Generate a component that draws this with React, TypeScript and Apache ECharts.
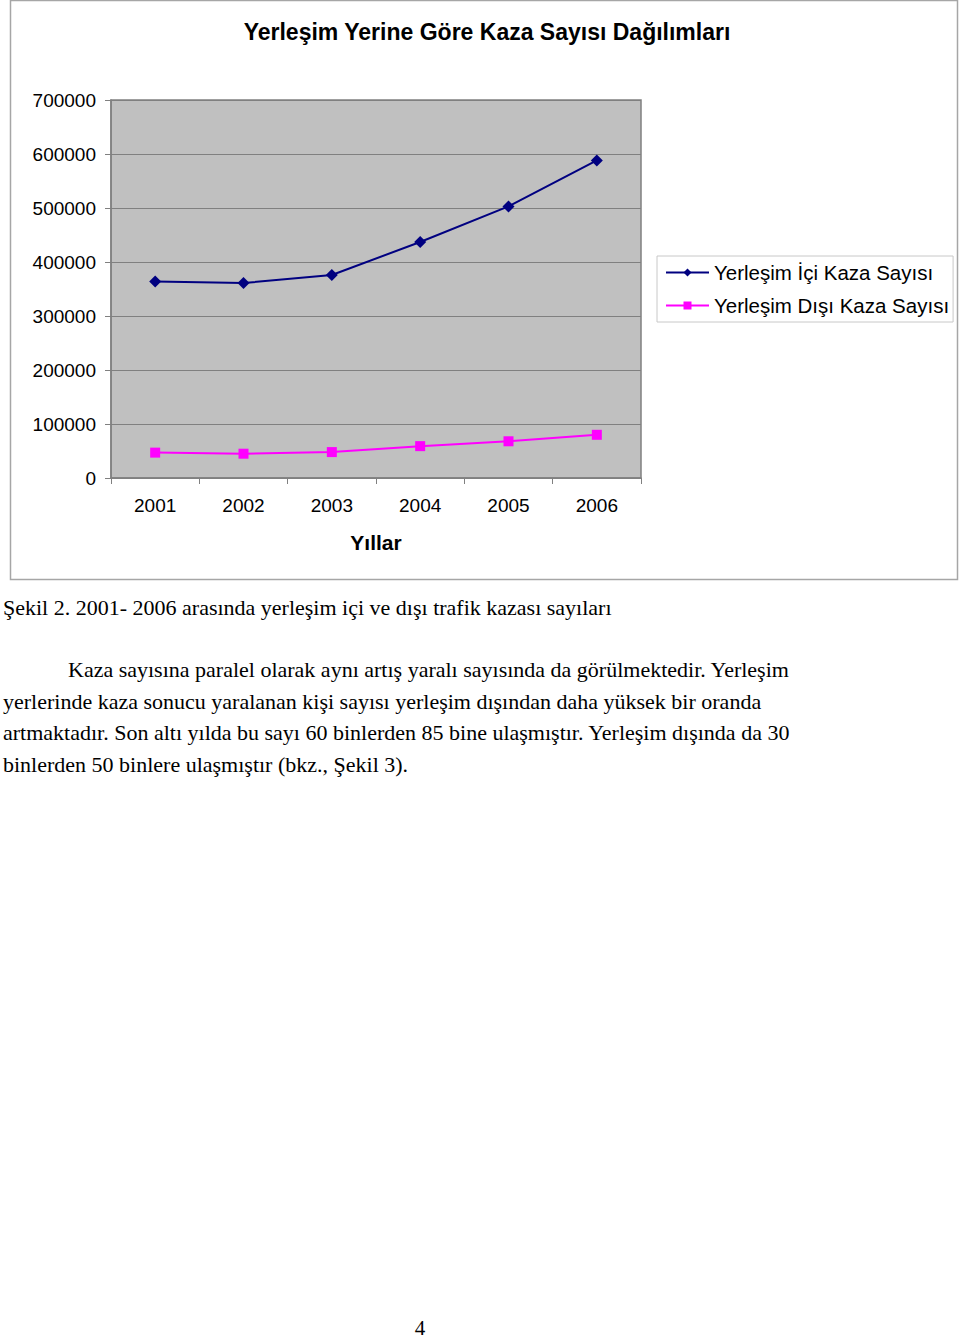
import React, { useEffect, useRef } from "react";
import * as echarts from "echarts";

const years = ["2001", "2002", "2003", "2004", "2005", "2006"];
const insideCounts = [364000, 361000, 376000, 437000, 503000, 588000];
const outsideCounts = [47000, 45000, 48000, 59000, 68000, 80000];
const seriesNames = ["Yerleşim İçi Kaza Sayısı", "Yerleşim Dışı Kaza Sayısı"];
const chartTitle = "Yerleşim Yerine Göre Kaza Sayısı Dağılımları";
const xAxisName = "Yıllar";
const caption = "Şekil 2. 2001- 2006 arasında yerleşim içi ve dışı trafik kazası sayıları";
const paragraphLines = [
  "Kaza sayısına paralel olarak aynı artış yaralı sayısında da görülmektedir. Yerleşim",
  "yerlerinde kaza sonucu yaralanan kişi sayısı yerleşim dışından daha yüksek bir oranda",
  "artmaktadır. Son altı yılda bu sayı 60 binlerden 85 bine ulaşmıştır. Yerleşim dışında da 30",
  "binlerden 50 binlere ulaşmıştır (bkz., Şekil 3).",
];
const pageNumber = "4";

const SANS = "'Liberation Sans', Arial, sans-serif";
const SERIF = "'Liberation Serif', 'Times New Roman', serif";

export default function App() {
  const ref = useRef<HTMLDivElement>(null);

  useEffect(() => {
    if (!ref.current) return;
    const chart = echarts.init(ref.current, null, { renderer: "svg" });

    const paraY = [669, 701, 732, 764];
    const paraX = [68, 3, 3, 3];

    const graphics: any[] = [
      {
        type: "rect",
        shape: { x: 10.5, y: 0.5, width: 947, height: 579 },
        style: { fill: "none", stroke: "#a6a6a6", lineWidth: 1.5 },
        silent: true,
      },
      {
        type: "text",
        x: 487,
        y: 32,
        style: {
          text: chartTitle,
          fill: "#000",
          font: `bold 23px ${SANS}`,
          textAlign: "center",
          textVerticalAlign: "middle",
        },
      },
      {
        type: "text",
        x: 3,
        y: 607,
        style: {
          text: caption,
          fill: "#000",
          font: `22px ${SERIF}`,
          textAlign: "left",
          textVerticalAlign: "middle",
        },
      },
      ...paragraphLines.map((t, i) => ({
        type: "text",
        x: paraX[i],
        y: paraY[i],
        style: {
          text: t,
          fill: "#000",
          font: `22px ${SERIF}`,
          textAlign: "left",
          textVerticalAlign: "middle",
        },
      })),
      {
        type: "text",
        x: 420,
        y: 1328,
        style: {
          text: pageNumber,
          fill: "#000",
          font: `21px ${SERIF}`,
          textAlign: "center",
          textVerticalAlign: "middle",
        },
      },
    ];

    chart.setOption({
      animation: false,
      backgroundColor: "#fff",
      grid: {
        show: true,
        left: 111,
        top: 100,
        width: 530,
        height: 378,
        backgroundColor: "#C0C0C0",
        borderColor: "#808080",
        borderWidth: 1.5,
      },
      legend: {
        orient: "vertical",
        left: 657,
        top: 256,
        data: seriesNames,
        borderColor: "#c8c8c8",
        borderWidth: 1,
        padding: [6, 4, 6, 8],
        itemWidth: 43,
        itemHeight: 10,
        itemGap: 12,
        textStyle: { fontSize: 20.5, fontFamily: SANS, color: "#000" },
      },
      xAxis: {
        type: "category",
        data: years,
        boundaryGap: true,
        name: xAxisName,
        nameLocation: "middle",
        nameGap: 54,
        nameTextStyle: { fontSize: 21, fontWeight: "bold", fontFamily: SANS, color: "#000" },
        axisLine: { show: true, lineStyle: { color: "#808080", width: 1.5 } },
        axisTick: { show: true, length: 6, alignWithLabel: false, lineStyle: { color: "#808080" } },
        axisLabel: { fontSize: 19, fontFamily: SANS, color: "#000", margin: 18 },
        splitLine: { show: false },
      },
      yAxis: {
        type: "value",
        min: 0,
        max: 700000,
        interval: 100000,
        axisLine: { show: true, lineStyle: { color: "#808080", width: 1.5 } },
        axisTick: { show: true, length: 6, lineStyle: { color: "#808080" } },
        axisLabel: {
          fontSize: 19,
          fontFamily: SANS,
          color: "#000",
          margin: 15,
          formatter: (v: number) => String(v),
        },
        splitLine: { show: true, lineStyle: { color: "#808080", width: 1 } },
      },
      series: [
        {
          name: seriesNames[0],
          type: "line",
          data: insideCounts,
          symbol: "diamond",
          symbolSize: 12,
          itemStyle: { color: "#000080" },
          lineStyle: { color: "#000080", width: 2 },
        },
        {
          name: seriesNames[1],
          type: "line",
          data: outsideCounts,
          symbol: "rect",
          symbolSize: 10,
          itemStyle: { color: "#FF00FF" },
          lineStyle: { color: "#FF00FF", width: 2 },
        },
      ],
      graphic: graphics,
    });

    return () => chart.dispose();
  }, []);

  return (
    <div
      ref={ref}
      style={{ position: "absolute", left: 0, top: 0, width: 960, height: 1341 }}
    />
  );
}
